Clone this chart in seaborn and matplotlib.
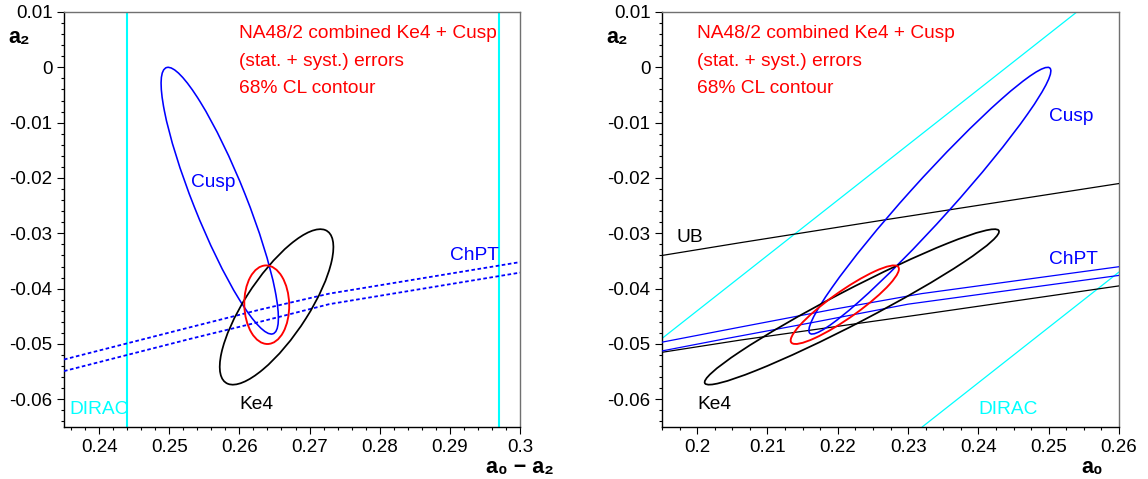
import numpy as np
import matplotlib
matplotlib.use("Agg")
import matplotlib.pyplot as plt
from matplotlib.patches import Ellipse
from matplotlib.ticker import MultipleLocator, FuncFormatter
import seaborn as sns

# ---------------- data ----------------
# 68% CL contours in (a0 - a2, a2): centre, half extents, correlation
cusp_center = [0.2572, -0.0241]
cusp_half = [0.00836, 0.0241]
cusp_corr = -0.88

ke4_center = [0.2653, -0.0433]
ke4_half = [0.0081, 0.01405]
ke4_corr = 0.77

comb_center = [0.2639, -0.0429]
comb_half = [0.0032, 0.0071]
comb_corr = -0.03

# ChPT band edges in (a0 - a2, a2)
chpt_x = [0.235, 0.2529, 0.2629, 0.2728, 0.300]
chpt_upper = [-0.0528, -0.0470, -0.0438, -0.0409, -0.0352]
chpt_lower = [-0.0549, -0.0491, -0.0460, -0.0428, -0.0371]

# UB band edges in (a0, a2)
ub_upper_a0 = [0.195, 0.2061, 0.2265, 0.260]
ub_upper = [-0.0340, -0.0317, -0.0276, -0.0210]
ub_lower_a0 = [0.195, 0.2061, 0.2317, 0.260]
ub_lower = [-0.0515, -0.0493, -0.0447, -0.0395]

# DIRAC |a0 - a2| bounds
dirac_bounds = [0.244, 0.297]

left_xlim = [0.235, 0.300]
right_xlim = [0.195, 0.260]
ylim = [-0.065, 0.01]

# ---------------- style ----------------
sns.set_theme(style="white")
plt.rcParams['font.family'] = ['Liberation Sans', 'DejaVu Sans']
plt.rcParams['axes.unicode_minus'] = False

BLUE = "#0000ff"
RED = "#ff0000"
CYAN = "#00ffff"
W, H = 1148, 479

fig = plt.figure(figsize=(W / 100, H / 100), dpi=100)
fig.patch.set_facecolor("white")
axL = fig.add_axes([64 / W, 52 / H, 456 / W, 415 / H])
axR = fig.add_axes([662 / W, 52 / H, 457 / W, 415 / H])

IDENT = np.array([[1.0, 0.0], [0.0, 1.0]])
TO_A0 = np.array([[1.0, 1.0], [0.0, 1.0]])  # (a0-a2, a2) -> (a0, a2)


def add_contour(ax, center, half, corr, A, color, lw):
    hx, hy = half
    C = np.array([[hx ** 2, corr * hx * hy], [corr * hx * hy, hy ** 2]])
    C2 = A @ C @ A.T
    c2 = A @ np.array(center)
    vals, vecs = np.linalg.eigh(C2)
    angle = np.degrees(np.arctan2(vecs[1, 1], vecs[0, 1]))
    e = Ellipse(c2, 2 * np.sqrt(vals[1]), 2 * np.sqrt(vals[0]), angle=angle,
                fill=False, edgecolor=color, lw=lw, zorder=4)
    ax.add_patch(e)


def style_axes(ax, xlim, xminor):
    ax.set_xlim(xlim)
    ax.set_ylim(ylim)
    ax.set_facecolor("white")
    ax.xaxis.set_major_locator(MultipleLocator(0.01))
    ax.xaxis.set_minor_locator(MultipleLocator(xminor))
    ax.yaxis.set_major_locator(MultipleLocator(0.01))
    ax.yaxis.set_minor_locator(MultipleLocator(0.002))
    fmt = FuncFormatter(lambda v, p: ("%g" % round(v, 4)) if abs(v) > 1e-9 else "0")
    ax.xaxis.set_major_formatter(fmt)
    ax.yaxis.set_major_formatter(fmt)
    ax.tick_params(which="both", direction="out", bottom=True, left=True,
                   top=False, right=False, colors="black", width=0.8)
    ax.tick_params(which="major", length=4.8, labelsize=13.5, pad=3.5)
    ax.tick_params(which="minor", length=2.4)
    for s in ["left", "bottom"]:
        ax.spines[s].set_color("black")
        ax.spines[s].set_linewidth(1.0)
    for s in ["top", "right"]:
        ax.spines[s].set_color("#707070")
        ax.spines[s].set_linewidth(1.0)
    ax.grid(False)
    ax.set_xlabel("")
    ax.set_ylabel("")


# ---------------- left panel: (a0 - a2, a2) ----------------
for b in dirac_bounds:
    axL.axvline(b, color=CYAN, lw=1.5, zorder=2)
for edge in (chpt_upper, chpt_lower):
    sns.lineplot(x=chpt_x, y=edge, ax=axL, color=BLUE, lw=1.3, sort=False,
                 estimator=None, legend=False, linestyle=(0, (2.0, 1.4)), zorder=3)
add_contour(axL, cusp_center, cusp_half, cusp_corr, IDENT, BLUE, 1.15)
add_contour(axL, ke4_center, ke4_half, ke4_corr, IDENT, "black", 1.25)
add_contour(axL, comb_center, comb_half, comb_corr, IDENT, RED, 1.35)
style_axes(axL, left_xlim, 0.002)

tkw = dict(fontsize=13.8, va="center", ha="left")
axL.text(0.2600, 0.00615, "NA48/2 combined Ke4 + Cusp", color=RED, **tkw)
axL.text(0.2600, 0.00114, "(stat. + syst.) errors", color=RED, **tkw)
axL.text(0.2600, -0.00387, "68% CL contour", color=RED, **tkw)
axL.text(0.2531, -0.0209, "Cusp", color=BLUE, **tkw)
axL.text(0.2900, -0.0340, "ChPT", color=BLUE, **tkw)
axL.text(0.2600, -0.0609, "Ke4", color="black", **tkw)
axL.text(0.2357, -0.0619, "DIRAC", color=CYAN, **tkw)

# ---------------- right panel: (a0, a2) ----------------
for b in dirac_bounds:
    a2_pts = np.array(ylim)
    sns.lineplot(x=b + a2_pts, y=a2_pts, ax=axR, color=CYAN, lw=0.9, sort=False,
                 estimator=None, legend=False, zorder=2)
for xs, edge in ((ub_upper_a0, ub_upper), (ub_lower_a0, ub_lower)):
    sns.lineplot(x=xs, y=edge, ax=axR, color="black", lw=0.9, sort=False,
                 estimator=None, legend=False, zorder=3)
for edge in (chpt_upper, chpt_lower):
    e = np.array(edge)
    sns.lineplot(x=np.array(chpt_x) + e, y=e, ax=axR, color=BLUE, lw=0.9, sort=False,
                 estimator=None, legend=False, zorder=3)
add_contour(axR, cusp_center, cusp_half, cusp_corr, TO_A0, BLUE, 1.15)
add_contour(axR, ke4_center, ke4_half, ke4_corr, TO_A0, "black", 1.25)
add_contour(axR, comb_center, comb_half, comb_corr, TO_A0, RED, 1.35)
style_axes(axR, right_xlim, 0.0025)

axR.text(0.2000, 0.00615, "NA48/2 combined Ke4 + Cusp", color=RED, **tkw)
axR.text(0.2000, 0.00114, "(stat. + syst.) errors", color=RED, **tkw)
axR.text(0.2000, -0.00387, "68% CL contour", color=RED, **tkw)
axR.text(0.2500, -0.0089, "Cusp", color=BLUE, **tkw)
axR.text(0.1971, -0.0307, "UB", color="black", **tkw)
axR.text(0.2500, -0.0348, "ChPT", color=BLUE, **tkw)
axR.text(0.2000, -0.0609, "Ke4", color="black", **tkw)
axR.text(0.2400, -0.0619, "DIRAC", color=CYAN, **tkw)

# ---------------- axis titles ----------------
lkw = dict(fontsize=15.5, fontweight="bold", color="black", va="center")
fig.text(8 / W, 1 - 37 / H, "a₂", ha="left", **lkw)
fig.text(606 / W, 1 - 37 / H, "a₂", ha="left", **lkw)
fig.text(554 / W, 1 - 468 / H, "a₀ − a₂", ha="right", **lkw)
fig.text(1103 / W, 1 - 468 / H, "a₀", ha="right", **lkw)

fig.savefig("out.png", dpi=100, facecolor="white")
